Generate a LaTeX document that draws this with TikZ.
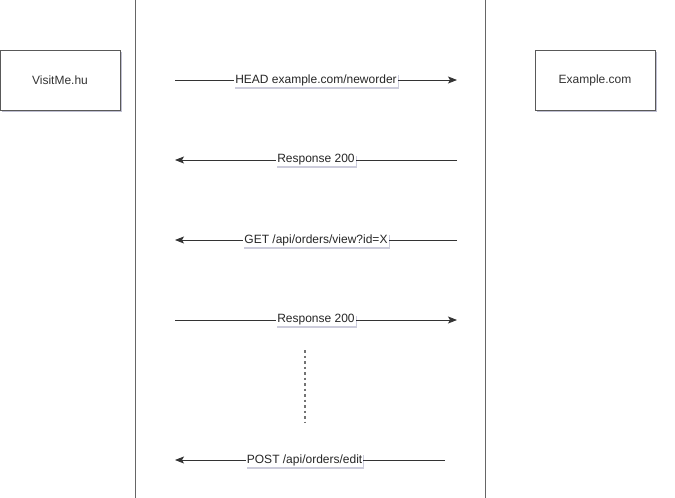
\documentclass[tikz,border=0pt]{standalone}
\usepackage{fontspec}
\setmainfont{Liberation Sans}
\usetikzlibrary{arrows.meta}
\usetikzlibrary{positioning}
\usetikzlibrary{shadows}
\tikzset{party/.style = {draw=black!65, line width=1pt, fill=white, minimum width=120, minimum height=60,
                         inner sep=0, font=\fontsize{12}{14}\selectfont\color{black!80},
                         drop shadow={shadow xshift=2pt, shadow yshift=-2pt, opacity=0.25, fill=blue!30!black}}}
\tikzset{msg/.style = {fill=white, inner sep=1pt, font=\fontsize{12}{14}\selectfont\color{black!85},
                       drop shadow={shadow xshift=1pt, shadow yshift=-2pt, opacity=0.2, fill=blue!30!black}}}
\tikzset{call/.style = {draw=black!80, line width=0.8pt, -{Stealth[length=9pt, width=7pt, inset=2pt]}}}
\tikzset{lane/.style = {draw=black!60, line width=1pt}}

\begin{document}
\begin{tikzpicture}[x=1pt, y=-1pt]
    \useasboundingbox (0, 0) rectangle (675, 498);

    \draw [lane] (135, 0) -- (135, 498);
    \draw [lane] (485, 0) -- (485, 498);

    \node [party] (visit) at (60, 80) {VisitMe.hu};
    \node [party] (example) at (595, 80) {Example.com};

    \coordinate (l1) at (175, 80);  \coordinate (r1) at (457, 80);
    \coordinate (l2) at (175, 160); \coordinate (r2) at (457, 160);
    \coordinate (l3) at (175, 240); \coordinate (r3) at (457, 240);
    \coordinate (l4) at (175, 320); \coordinate (r4) at (457, 320);
    \coordinate (l5) at (175, 460); \coordinate (r5) at (445, 460);

    \draw [call] (l1) -- (r1) node [msg, pos=0.5] (head) {HEAD example.com/neworder};
    \draw [call] (r2) -- (l2) node [msg, pos=0.5] (resp1) {Response 200};
    \draw [call] (r3) -- (l3) node [msg, pos=0.5] (get) {GET /api/orders/view?id=X};
    \draw [call] (l4) -- (r4) node [msg, pos=0.5] (resp2) {Response 200};
    \draw [call] (r5) -- (l5) node [msg, pos=0.52] (post) {POST /api/orders/edit};

    \coordinate (dtop) at (305, 350);
    \coordinate (dbot) at (305, 422);
    \draw [black!55, line width=1.3pt, dash pattern=on 2.5pt off 3pt] (dtop) -- (dbot);
  \end{tikzpicture}
\end{document}
